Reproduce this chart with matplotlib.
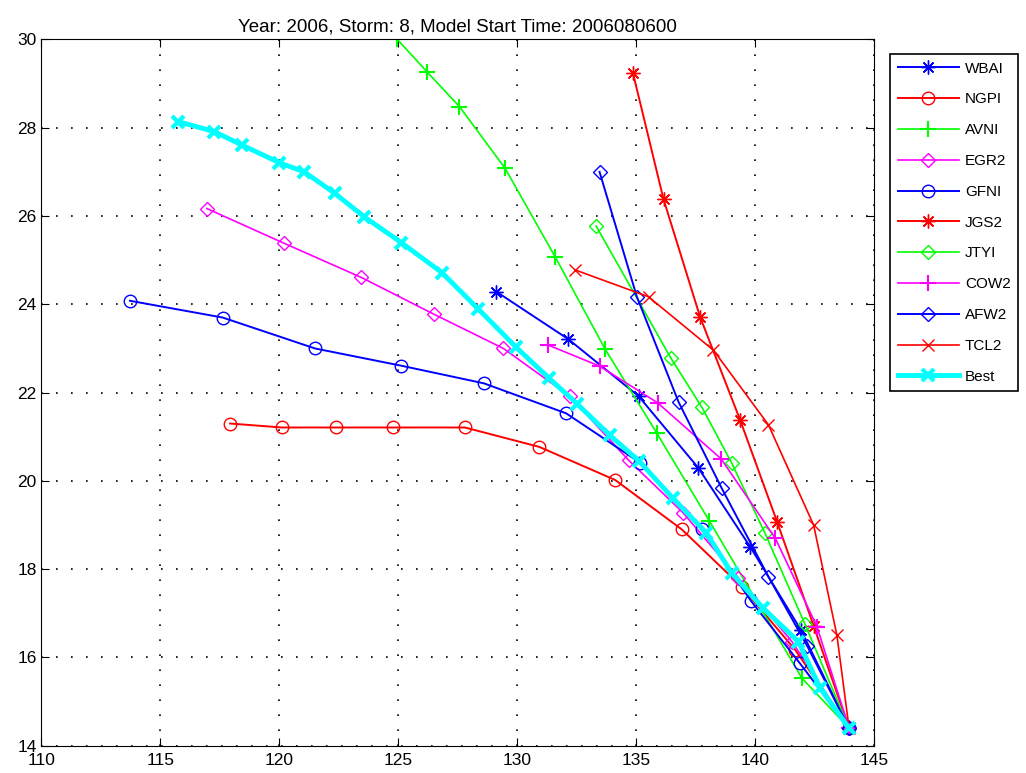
import numpy as np
import matplotlib
matplotlib.use("Agg")
import matplotlib.pyplot as plt

plt.rcParams['font.family'] = ['Liberation Sans', 'DejaVu Sans']

# forecast tracks (lon, lat)
wbai_lon = [129.11, 132.15, 135.10, 137.62, 139.79, 141.93, 143.95]
wbai_lat = [24.29, 23.21, 21.92, 20.29, 18.51, 16.62, 14.40]

ngpi_lon = [117.93, 120.10, 122.38, 124.79, 127.80, 130.93, 134.12, 136.92, 139.44, 141.69, 143.95]
ngpi_lat = [21.30, 21.21, 21.21, 21.21, 21.21, 20.77, 20.02, 18.90, 17.60, 16.17, 14.40]

avni_lon = [124.96, 126.20, 127.57, 129.49, 131.59, 133.70, 135.87, 138.08, 141.97, 143.95]
avni_lat = [30.00, 29.27, 28.48, 27.08, 25.08, 22.98, 21.08, 19.09, 15.53, 14.40]

egr2_lon = [116.95, 120.21, 123.44, 126.52, 129.42, 132.20, 134.68, 136.97, 139.30, 141.55, 143.95]
egr2_lat = [26.17, 25.38, 24.61, 23.77, 23.00, 21.92, 20.47, 19.28, 17.80, 16.36, 14.40]

gfni_lon = [113.72, 117.62, 121.50, 125.12, 128.60, 132.06, 135.17, 137.76, 139.83, 141.88, 143.95]
gfni_lat = [24.08, 23.70, 23.00, 22.61, 22.21, 21.53, 20.41, 18.90, 17.28, 15.87, 14.40]

jgs2_lon = [134.86, 136.15, 137.69, 139.37, 140.92, 142.46, 143.95]
jgs2_lat = [29.25, 26.38, 23.71, 21.38, 19.08, 16.72, 14.40]

jtyi_lon = [133.32, 136.46, 137.76, 139.02, 140.42, 142.10, 143.95]
jtyi_lat = [25.77, 22.78, 21.67, 20.40, 18.81, 16.75, 14.40]

cow2_lon = [131.29, 133.46, 135.90, 138.57, 140.85, 142.60, 143.95]
cow2_lat = [23.08, 22.60, 21.77, 20.50, 18.70, 16.70, 14.40]

afw2_lon = [133.46, 135.03, 136.78, 138.60, 140.56, 142.20, 143.95]
afw2_lat = [27.00, 24.17, 21.79, 19.83, 17.83, 16.25, 14.40]

tcl2_lon = [132.43, 135.52, 138.25, 140.56, 142.46, 143.44, 143.95]
tcl2_lat = [24.78, 24.17, 22.96, 21.27, 19.00, 16.50, 14.40]

best_lon = [115.75, 117.27, 118.42, 119.99, 121.05, 122.34, 123.57, 125.12, 126.83, 128.37, 129.95,
            131.35, 132.53, 133.88, 135.14, 136.54, 137.94, 139.02, 140.35, 141.82, 142.74, 143.95]
best_lat = [28.14, 27.91, 27.61, 27.21, 27.00, 26.51, 25.98, 25.40, 24.72, 23.89, 23.03,
            22.32, 21.74, 21.04, 20.44, 19.61, 18.83, 17.91, 17.11, 16.36, 15.30, 14.40]

xticks = [110, 115, 120, 125, 130, 135, 140, 145]
yticks = [14, 16, 18, 20, 22, 24, 26, 28, 30]

star = (8, 2, 0)  # matlab style asterisk
blue, red, green, mag, cyan = '#0000ff', '#ff0000', '#00ff00', '#ff00ff', '#00ffff'

fig = plt.figure(figsize=(10.26, 7.73), dpi=100)
ax = fig.add_axes([0.0404, 0.0352, 0.8115, 0.9138])

ax.plot(wbai_lon, wbai_lat, color=blue, marker=star, ms=10, lw=1.4, label='WBAI')
ax.plot(ngpi_lon, ngpi_lat, color=red, marker='o', ms=9, mfc='none', lw=1.4, label='NGPI')
ax.plot(avni_lon, avni_lat, color=green, marker='+', ms=12, mew=1.5, lw=1.2, label='AVNI')
ax.plot(egr2_lon, egr2_lat, color=mag, marker='D', ms=7, mfc='none', lw=1.2, label='EGR2')
ax.plot(gfni_lon, gfni_lat, color=blue, marker='o', ms=9, mfc='none', lw=1.4, label='GFNI')
ax.plot(jgs2_lon, jgs2_lat, color=red, marker=star, ms=10, lw=1.4, label='JGS2')
ax.plot(jtyi_lon, jtyi_lat, color=green, marker='D', ms=7, mfc='none', lw=1.2, label='JTYI')
ax.plot(cow2_lon, cow2_lat, color=mag, marker='+', ms=12, mew=1.5, lw=1.2, label='COW2')
ax.plot(afw2_lon, afw2_lat, color=blue, marker='D', ms=7, mfc='none', lw=1.4, label='AFW2')
ax.plot(tcl2_lon, tcl2_lat, color=red, marker='x', ms=8, lw=1.2, label='TCL2')
ax.plot(best_lon, best_lat, color=cyan, marker='x', ms=9, mew=3, lw=3.5, label='Best')

ax.set_xlim(110, 145)
ax.set_ylim(14, 30)
ax.set_xticks(xticks)
ax.set_yticks(yticks)
ax.tick_params(direction='in', top=True, right=True, length=6, labelsize=12.5)
ax.tick_params(axis='x', pad=5)
ax.grid(True, color='k', linestyle=(0, (1, 8)), linewidth=1.2)
ax.set_title('Year: 2006, Storm: 8, Model Start Time: 2006080600', fontsize=13.5, pad=6)

leg = ax.legend(loc='upper left', bbox_to_anchor=(890 / 1026, 1 - 54 / 773),
                bbox_transform=fig.transFigure, fancybox=False, framealpha=1,
                edgecolor='k', fontsize=11, handlelength=4.0, labelspacing=1.1,
                borderpad=0.5, handletextpad=0.4, borderaxespad=0)
leg.get_frame().set_linewidth(1.2)

fig.savefig('out.png', dpi=100)
